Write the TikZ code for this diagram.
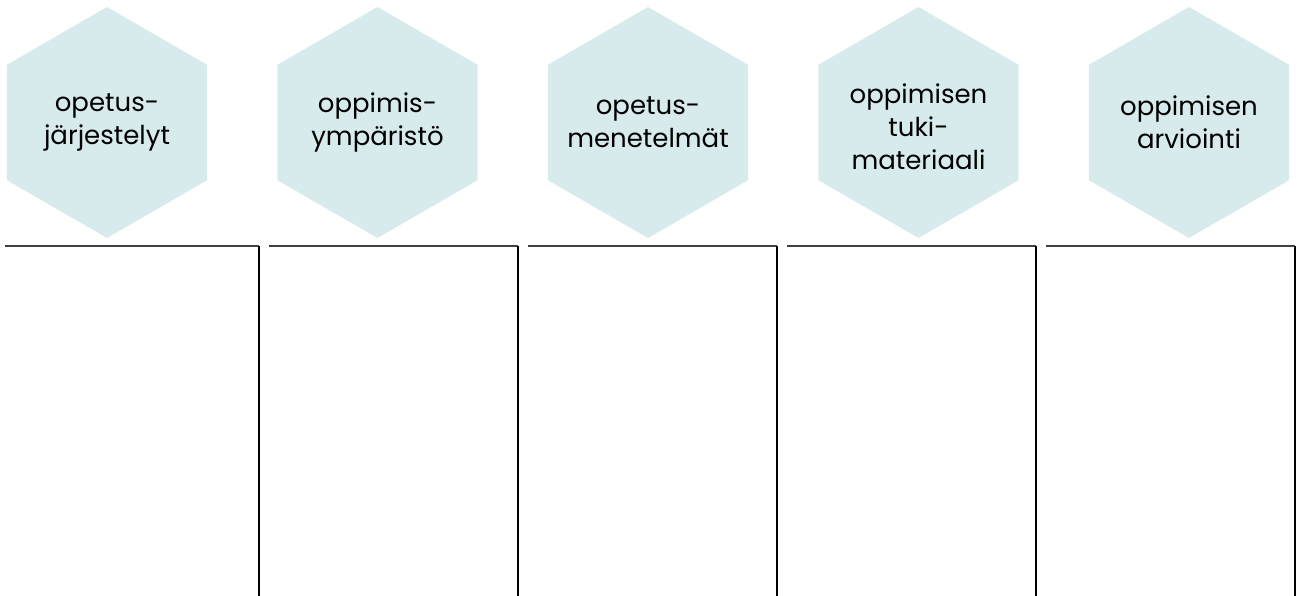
\documentclass[tikz,border=0pt]{standalone}
\usepackage{fontspec}
\setmainfont{Poppins}
\usetikzlibrary{shapes.geometric}
\definecolor{hexfill}{RGB}{216,235,236}
\tikzset{
	hexbox/.style={regular polygon, regular polygon sides=6, shape border rotate=30,
		minimum size=231pt, inner sep=0pt, fill=hexfill},
	hextext/.style={text=black, align=center, inner sep=0pt,
		font=\fontsize{26}{33}\selectfont},
	topline/.style={line width=1.3pt, black!75},
	sideline/.style={line width=1.3pt, black}
}
\begin{document}
\begin{tikzpicture}[x=1pt,y=-1pt]
				\useasboundingbox (0,0) rectangle (1298,596);
				% hexagons
				\node [hexbox] (jarj) at (107,122.5) {};
				\node [hexbox] (ymp) at (377.5,122.5) {};
				\node [hexbox] (men) at (648,122.5) {};
				\node [hexbox] (tuki) at (918.5,122.5) {};
				\node [hexbox] (arv) at (1189,122.5) {};
				\node [hextext] at (jarj) {opetus-\\järjestelyt};
				\node [hextext] at (ymp) {oppimis-\\ympäristö};
				\node [hextext] at (men) {opetus-\\menetelmät};
				\node [hextext, yshift=-4pt] at (tuki) {oppimisen\\tuki-\\materiaali};
				\node [hextext] at (arv) {oppimisen\\arviointi};
				% columns below
				\foreach \s/\e [count=\i] in {4.5/259,269/518,528/777,787/1036,1046/1295}{
					\coordinate (L\i) at (\s,246);
					\coordinate (R\i) at (\e,246);
					\coordinate (B\i) at (\e,596);
					\draw [topline] (L\i) -- (R\i);
					\draw [sideline] (R\i) -- (B\i);
				}
			\end{tikzpicture}
\end{document}
